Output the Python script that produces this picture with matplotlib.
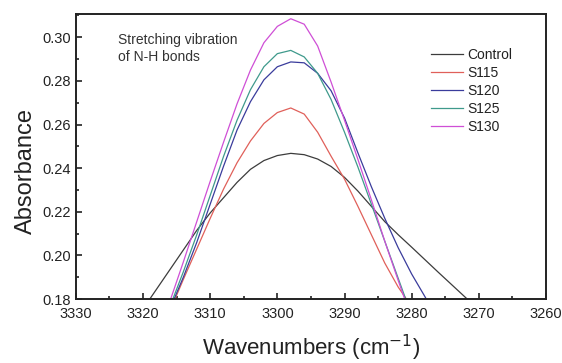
import numpy as np
import matplotlib.pyplot as plt
from matplotlib.ticker import MultipleLocator

plt.rcParams['font.family'] = ['Liberation Sans', 'DejaVu Sans']

# Wavenumber grid (cm-1) and absorbance of each sample
wn = [3320, 3318, 3316, 3314, 3312, 3310, 3308, 3306, 3304, 3302, 3300, 3298, 3296,
      3294, 3292, 3290, 3288, 3286, 3284, 3282, 3280, 3278, 3276, 3274, 3272, 3270]

control = [0.1755, 0.1845, 0.1935, 0.2025, 0.2115, 0.2195, 0.2265, 0.2335, 0.2395,
           0.2435, 0.2458, 0.2468, 0.2462, 0.2442, 0.2408, 0.2358, 0.2295, 0.2225,
           0.2155, 0.2095, 0.2038, 0.1980, 0.1922, 0.1865, 0.1808, 0.1750]

wn_s = wn[2:21]  # 3316 .. 3280
wn_s120 = wn[2:23]  # 3316 .. 3276

s115 = [0.1745, 0.1890, 0.2030, 0.2170, 0.2305, 0.2425, 0.2525, 0.2605, 0.2655,
        0.2676, 0.2648, 0.2565, 0.2455, 0.2350, 0.2225, 0.2095, 0.1965, 0.1855, 0.1765]

s120 = [0.1755, 0.1900, 0.2060, 0.2235, 0.2410, 0.2575, 0.2705, 0.2805, 0.2865,
        0.2887, 0.2883, 0.2835, 0.2755, 0.2630, 0.2470, 0.2315, 0.2170, 0.2035,
        0.1915, 0.1810, 0.1700]

s125 = [0.1765, 0.1925, 0.2095, 0.2275, 0.2455, 0.2620, 0.2760, 0.2865, 0.2925,
        0.2940, 0.2910, 0.2835, 0.2715, 0.2565, 0.2405, 0.2235, 0.2065, 0.1895, 0.1725]

s130 = [0.1790, 0.1970, 0.2155, 0.2340, 0.2520, 0.2695, 0.2850, 0.2975, 0.3050,
        0.3085, 0.3060, 0.2960, 0.2795, 0.2620, 0.2440, 0.2255, 0.2065, 0.1885, 0.1710]

fig = plt.figure(figsize=(5.62, 3.63), dpi=100)
ax = fig.add_axes([0.135, 0.176, 0.8365, 0.785])

ax.plot(wn, control, color='#3c3c3c', lw=0.9, label='Control')
ax.plot(wn_s, s115, color='#e0605a', lw=0.9, label='S115')
ax.plot(wn_s120, s120, color='#3a3c9c', lw=0.9, label='S120')
ax.plot(wn_s, s125, color='#3f9a8c', lw=0.9, label='S125')
ax.plot(wn_s, s130, color='#cf4fd6', lw=0.9, label='S130')

ax.set_xlim(3330, 3260)
ax.set_ylim(0.18, 0.3106)
ax.xaxis.set_major_locator(MultipleLocator(10))
ax.xaxis.set_minor_locator(MultipleLocator(5))
ax.yaxis.set_major_locator(MultipleLocator(0.02))
ax.yaxis.set_minor_locator(MultipleLocator(0.01))
ax.yaxis.set_major_formatter(plt.FormatStrFormatter('%.2f'))
ax.tick_params(which='both', direction='in', top=False, right=False,
               labelsize=10.5, width=1.2, colors='#222222')
ax.tick_params(which='major', length=4)
ax.tick_params(axis='x', which='major', pad=6)
ax.tick_params(which='minor', length=2.5)
for s in ax.spines.values():
    s.set_linewidth(1.4)
    s.set_color('#222222')

ax.set_xlabel('Wavenumbers (cm$^{-1}$)', fontsize=16, color='#222222', labelpad=8)
ax.set_ylabel('Absorbance', fontsize=17, color='#222222')
ax.yaxis.set_label_coords(-0.083, 0.45)

ax.text(0.089, 0.935, 'Stretching vibration\nof N-H bonds', transform=ax.transAxes,
        fontsize=10, va='top', ha='left', color='#333333', linespacing=1.3)

leg = ax.legend(loc='upper left', bbox_to_anchor=(0.744, 0.9), frameon=False,
                fontsize=10, handlelength=2.3, handletextpad=0.3, labelspacing=0.28,
                borderaxespad=0)
for t in leg.get_texts():
    t.set_color('#222222')

fig.savefig('out.png', dpi=100)
